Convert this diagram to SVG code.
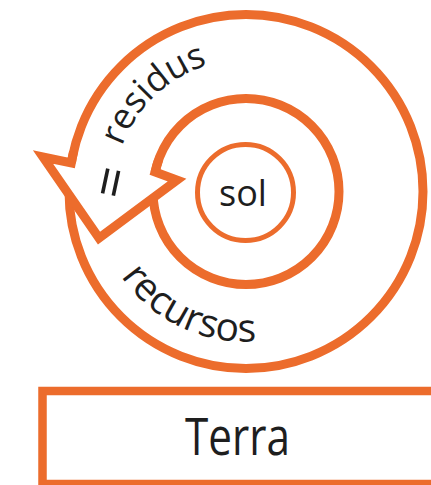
<svg xmlns="http://www.w3.org/2000/svg" width="431" height="485" viewBox="0 0 431 485">
  <style>
    .ring { fill: none; stroke: #EC6C2C; stroke-width: 9; }
    .thin { fill: none; stroke: #EC6C2C; stroke-width: 5; }
    .lbl { font-family: "Open Sans", "Noto Sans", sans-serif; fill: #1E1E1E; }
  </style>
  <defs>
    <clipPath id="outsideHead">
      <path clip-rule="evenodd" d="M0 0 H431 V485 H0 Z M71.31 163 L43 157 L99 238 L177 180 L155.07 172 Z"/>
    </clipPath>
    <path id="arcTop" d="M121.96 146.35 A132 132 0 0 1 291.15 67.46"/>
    <path id="arcBottom" d="M121.0 276.2 A150 150 0 0 0 267.0 340.0"/>
  </defs>

  <g id="spiral">
    <g clip-path="url(#outsideHead)">
      <circle class="ring" cx="246" cy="191.5" r="177"/>
      <circle class="ring" cx="246" cy="191.5" r="93"/>
    </g>
    <path class="ring" stroke-linejoin="miter" stroke-miterlimit="10" d="M73.54 151.68 L71.31 163 L43 157 L99 238 L177 180 L155.07 172 L158.61 159.69"/>
  </g>

  <g id="sol">
    <circle class="thin" cx="245.5" cy="192.5" r="48"/>
    <text class="lbl" x="243" y="206" font-size="36" text-anchor="middle">sol</text>
  </g>

  <g id="labels">
    <text class="lbl" font-size="36"><textPath href="#arcTop">residus</textPath></text>
    <text class="lbl" font-size="39"><textPath href="#arcBottom">recursos</textPath></text>
    <text class="lbl" font-size="55" text-anchor="middle" transform="translate(110,182) rotate(-78)" x="0" y="20">=</text>
  </g>

  <g id="terra">
    <rect x="42.5" y="391" width="420" height="93" fill="none" stroke="#EC6C2C" stroke-width="8.5"/>
    <text class="lbl" x="237.5" y="455" font-size="51" text-anchor="middle" textLength="105" lengthAdjust="spacingAndGlyphs">Terra</text>
  </g>
</svg>
